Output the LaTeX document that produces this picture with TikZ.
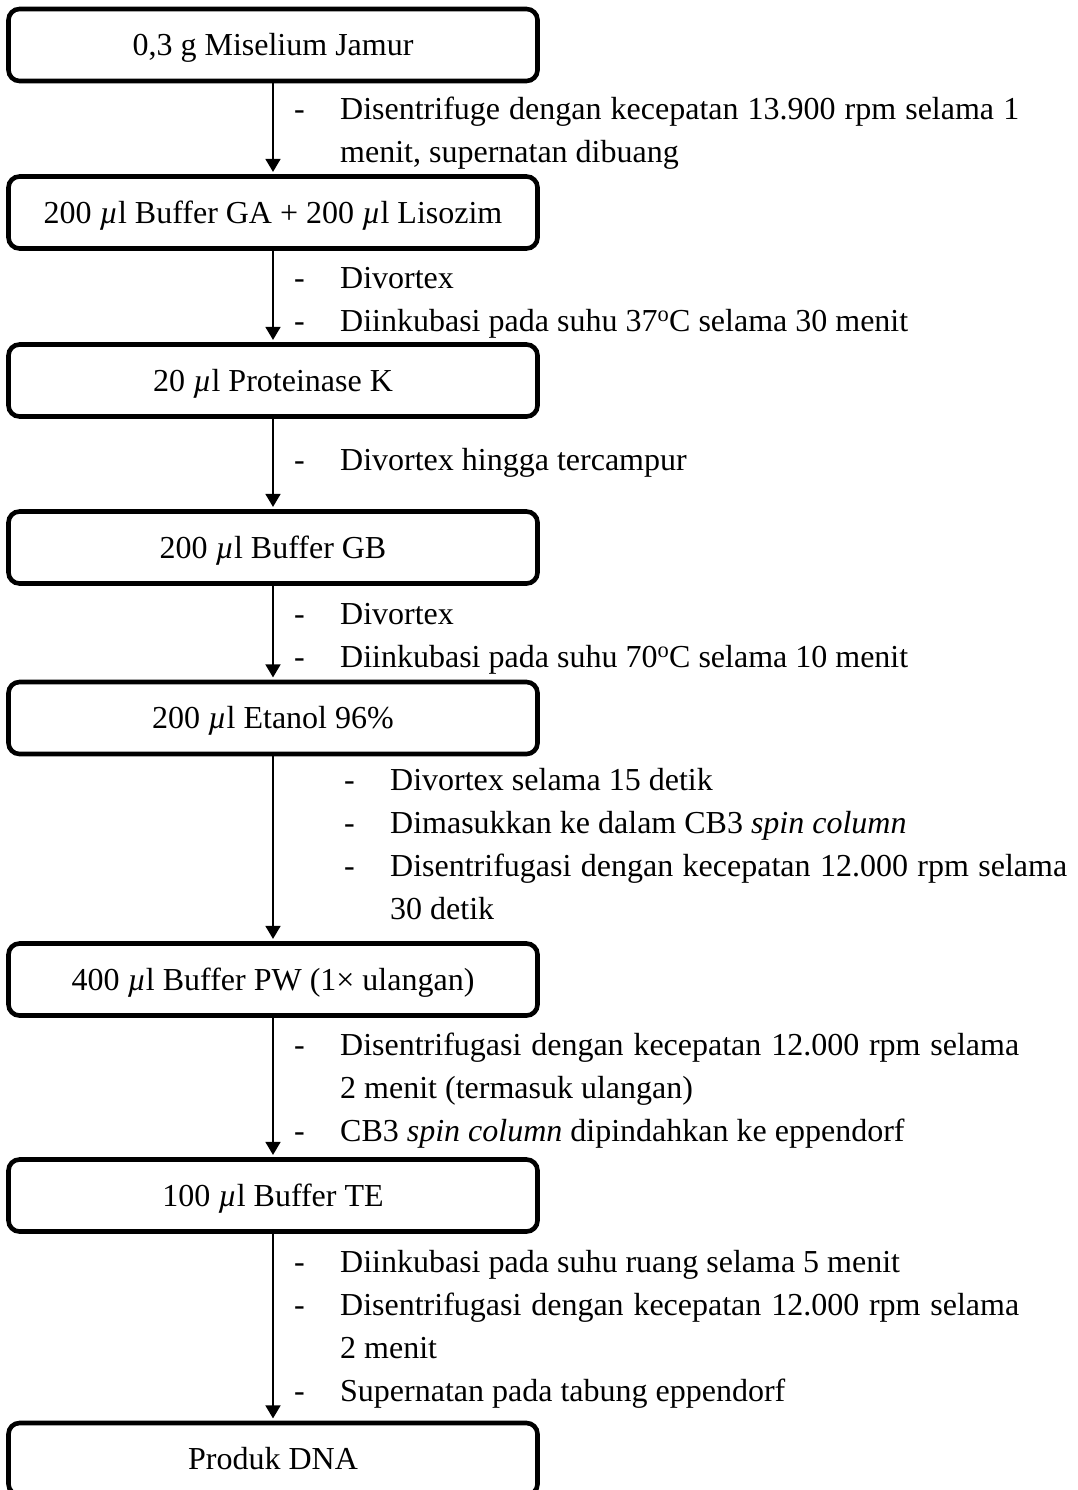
\documentclass[tikz,border=0pt]{standalone}
\usepackage{fontspec}
\setmainfont{Liberation Serif}
\usetikzlibrary{arrows.meta}
\newcommand{\ul}{{\itshape µ}l}
\newcommand{\dsh}{\makebox[46pt][l]{-}}
\begin{document}
\begin{tikzpicture}[x=1pt,y=-1pt,
  stepbox/.style={draw, line width=4.6pt, rounded corners=11pt, minimum width=529pt,
    minimum height=72pt, inner sep=0pt, text height=21pt, text depth=0pt,
    font=\fontsize{32}{43}\selectfont},
  flow/.style={line width=1.7pt, -{Triangle[length=13pt,width=15pt]}, shorten >=2.3pt},
  note/.style={anchor=base west, inner sep=0pt, font=\fontsize{32}{43}\selectfont}]
\useasboundingbox (0,0) rectangle (1078,1490);
\clip (0,0) rectangle (1078,1490);

\node[stepbox] (b1) at (273,45) {0,3 g Miselium Jamur};
\node[stepbox] (b2) at (273,212.5) {200 \ul{} Buffer GA + 200 \ul{} Lisozim};
\node[stepbox] (b3) at (273,380.5) {20 \ul{} Proteinase K};
\node[stepbox] (b4) at (273,547.5) {200 \ul{} Buffer GB};
\node[stepbox] (b5) at (273,718) {200 \ul{} Etanol 96\%};
\node[stepbox] (b6) at (273,979.5) {400 \ul{} Buffer PW (1× ulangan)};
\node[stepbox] (b7) at (273,1195.5) {100 \ul{} Buffer TE};
\node[stepbox] (b8) at (273,1459) {Produk DNA};

\draw[flow] (b1.south) -- (b2.north);
\draw[flow] (b2.south) -- (b3.north);
\draw[flow] (b3.south) -- (b4.north);
\draw[flow] (b4.south) -- (b5.north);
\draw[flow] (b5.south) -- (b6.north);
\draw[flow] (b6.south) -- (b7.north);
\draw[flow] (b7.south) -- (b8.north);

\node[note] (d1) at (294,120) {\begin{tabular}[t]{@{}l@{}l@{}}
\dsh & \makebox[679pt][s]{Disentrifuge dengan kecepatan 13.900 rpm selama 1}\\
 & menit, supernatan dibuang\end{tabular}};
\node[note] (d2) at (294,288) {\begin{tabular}[t]{@{}l@{}l@{}}
\dsh & Divortex\\
\dsh & Diinkubasi pada suhu 37\textsuperscript{o}C selama 30 menit\end{tabular}};
\node[note] (d3) at (294,470) {\begin{tabular}[t]{@{}l@{}l@{}}
\dsh & Divortex hingga tercampur\end{tabular}};
\node[note] (d4) at (294,624) {\begin{tabular}[t]{@{}l@{}l@{}}
\dsh & Divortex\\
\dsh & Diinkubasi pada suhu 70\textsuperscript{o}C selama 10 menit\end{tabular}};
\node[note] (d5) at (344,790) {\begin{tabular}[t]{@{}l@{}l@{}}
\dsh & Divortex selama 15 detik\\
\dsh & Dimasukkan ke dalam CB3 \textit{spin column}\\
\dsh & \makebox[677pt][s]{Disentrifugasi dengan kecepatan 12.000 rpm selama}\\
 & 30 detik\end{tabular}};
\node[note] (d6) at (294,1055) {\begin{tabular}[t]{@{}l@{}l@{}}
\dsh & \makebox[679pt][s]{Disentrifugasi dengan kecepatan 12.000 rpm selama}\\
 & 2 menit (termasuk ulangan)\\
\dsh & CB3 \textit{spin column} dipindahkan ke eppendorf\end{tabular}};
\node[note] (d7) at (294,1272) {\begin{tabular}[t]{@{}l@{}l@{}}
\dsh & Diinkubasi pada suhu ruang selama 5 menit\\
\dsh & \makebox[679pt][s]{Disentrifugasi dengan kecepatan 12.000 rpm selama}\\
 & 2 menit\\
\dsh & Supernatan pada tabung eppendorf\end{tabular}};
\end{tikzpicture}
\end{document}
